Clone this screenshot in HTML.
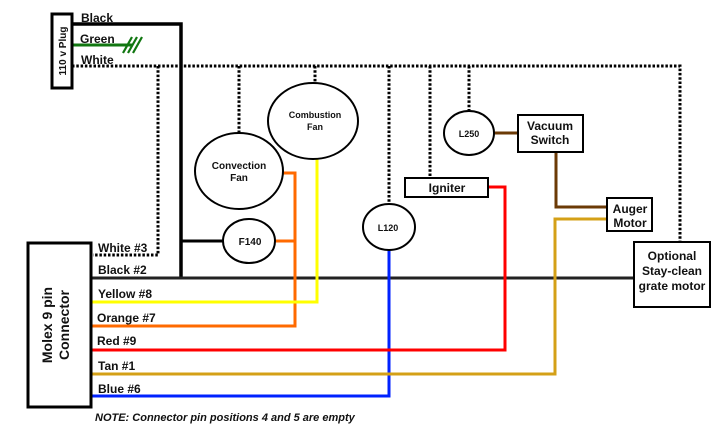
<!DOCTYPE html>
<html><head><meta charset="utf-8"><style>
html,body{margin:0;padding:0;background:#fff;}
svg{display:block;}
text{font-family:"Liberation Sans",sans-serif;font-weight:bold;fill:#111;}
</style></head><body>
<svg width="725" height="431" viewBox="0 0 725 431" xmlns="http://www.w3.org/2000/svg">
<g fill="none">
<g stroke="#000" stroke-width="3" stroke-dasharray="2.5,1.8">
<path d="M72 66 H680 V242"/>
<path d="M158 66 V255 H93"/>
<path d="M239 66 V134"/>
<path d="M315 66 V82"/>
<path d="M389 66 V205"/>
<path d="M430 66 V178"/>
<path d="M469 66 V110"/>
</g>
<path d="M72 24 H181 V279" stroke="#000" stroke-width="3.5"/>
<path d="M181 241 H224" stroke="#000" stroke-width="3"/>
<path d="M91 278 H634" stroke="#222" stroke-width="3"/>
<path d="M72 45 H132" stroke="#117711" stroke-width="3"/>
<path d="M123 53 L132 37 M128 53 L137 37 M133 53 L142 37" stroke="#117711" stroke-width="2.2"/>
<path d="M281 173 H295 V326 H91 M274 241 H295" stroke="#ff6a00" stroke-width="3"/>
<path d="M317 157 V302 H91" stroke="#ffff00" stroke-width="3"/>
<path d="M389 250 V396 H91" stroke="#0022ff" stroke-width="3"/>
<path d="M489 187 H505 V350 H91" stroke="#ff0000" stroke-width="3"/>
<path d="M606 219 H555 V374 H91" stroke="#d4a017" stroke-width="3"/>
<path d="M492 133 H518 M556 153 V207 H606" stroke="#6b3a06" stroke-width="3"/>
</g>
<g fill="#fff" stroke="#000" stroke-width="2">
<rect x="52" y="14" width="20" height="74" stroke-width="3"/>
<rect x="28" y="243" width="63" height="164" stroke-width="3"/>
<ellipse cx="313" cy="121" rx="45" ry="38"/>
<ellipse cx="239" cy="171" rx="44" ry="38"/>
<ellipse cx="249" cy="241" rx="26" ry="22"/>
<ellipse cx="389" cy="227" rx="26" ry="23"/>
<ellipse cx="469" cy="133" rx="25" ry="22"/>
<rect x="518" y="115" width="65" height="37"/>
<rect x="405" y="178" width="83" height="19"/>
<rect x="607" y="198" width="45" height="33"/>
<rect x="634" y="242" width="76" height="65"/>
</g>
<text x="66" y="51" font-size="10" transform="rotate(-90 66 51)" text-anchor="middle">110 v Plug</text>
<text x="81" y="22" font-size="12">Black</text>
<text x="80" y="43" font-size="12">Green</text>
<text x="81" y="64" font-size="12">White</text>
<text x="98" y="252" font-size="12">White #3</text>
<text x="98" y="274" font-size="12">Black #2</text>
<text x="98" y="298" font-size="12">Yellow #8</text>
<text x="97" y="322" font-size="12">Orange #7</text>
<text x="97" y="345" font-size="12">Red #9</text>
<text x="98" y="370" font-size="12">Tan #1</text>
<text x="98" y="393" font-size="12">Blue #6</text>
<g transform="rotate(-90 59 325)"><text x="59" y="318" font-size="14" text-anchor="middle">Molex 9 pin</text><text x="59" y="335" font-size="14" text-anchor="middle">Connector</text></g>
<text x="315" y="118" font-size="9" text-anchor="middle">Combustion</text>
<text x="315" y="130" font-size="9" text-anchor="middle">Fan</text>
<text x="239" y="169" font-size="10" text-anchor="middle">Convection</text>
<text x="239" y="181" font-size="10" text-anchor="middle">Fan</text>
<text x="250" y="245" font-size="10" text-anchor="middle">F140</text>
<text x="388" y="231" font-size="9" text-anchor="middle">L120</text>
<text x="469" y="137" font-size="9" text-anchor="middle">L250</text>
<text x="550" y="130" font-size="12" text-anchor="middle">Vacuum</text>
<text x="550" y="144" font-size="12" text-anchor="middle">Switch</text>
<text x="447" y="192" font-size="12" text-anchor="middle">Igniter</text>
<text x="630" y="213" font-size="12" text-anchor="middle">Auger</text>
<text x="630" y="227" font-size="12" text-anchor="middle">Motor</text>
<text x="672" y="260" font-size="12" text-anchor="middle">Optional</text>
<text x="672" y="275" font-size="12" text-anchor="middle">Stay-clean</text>
<text x="672" y="290" font-size="12" text-anchor="middle">grate motor</text>
<text x="95" y="421" font-size="11" font-style="italic">NOTE: Connector pin positions 4 and 5 are empty</text>
</svg>
</body></html>
